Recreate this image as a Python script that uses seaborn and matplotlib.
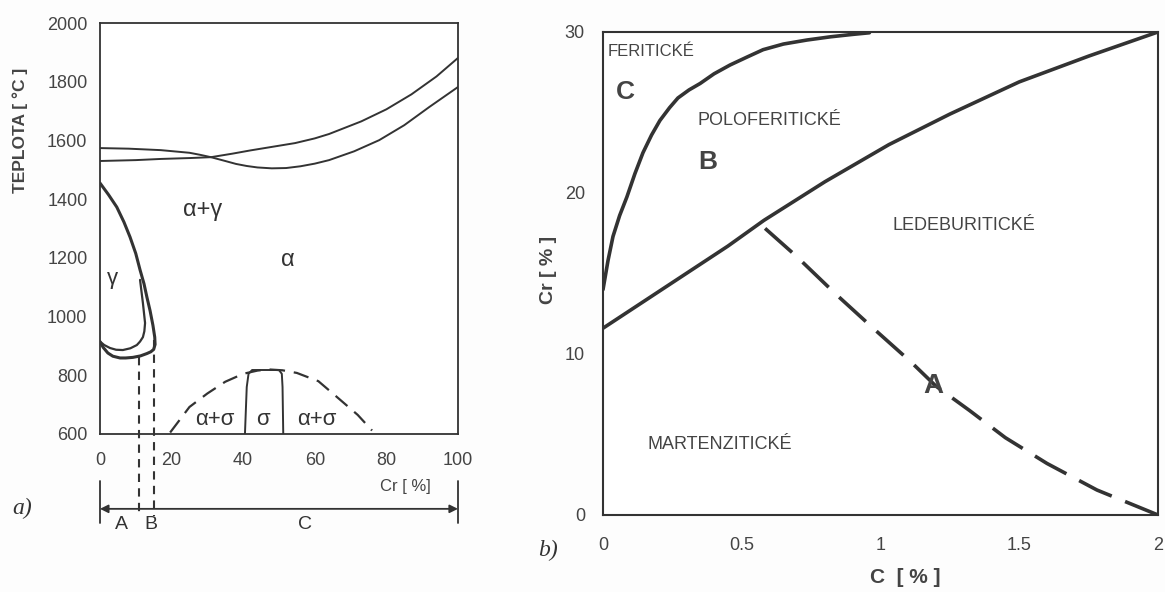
import numpy as np
import pandas as pd
import seaborn as sns
import matplotlib.pyplot as plt

sns.set_style("white")
plt.rcParams['font.family'] = ['Liberation Sans', 'DejaVu Sans']
ink = '#333333'
txt = '#444444'

# ---- a) Fe-Cr diagram (Cr %, temperature C) ----
liq_a_cr = [0, 8, 17, 25, 28, 31, 35, 38, 41, 44, 48, 52, 56, 60, 64, 71, 78, 85, 92, 96, 100]
liq_a_t = [1574, 1572, 1567, 1558, 1551, 1543, 1530, 1520, 1513, 1508, 1505, 1506, 1512, 1521,
           1533, 1563, 1601, 1652, 1714, 1748, 1782]
liq_b_cr = [0, 10, 17, 25, 31, 37, 42, 48, 54.5, 60, 64, 73, 80, 87, 94, 100]
liq_b_t = [1530, 1533, 1537, 1540, 1543, 1555, 1566, 1578, 1591, 1607, 1622, 1665, 1706, 1757,
           1818, 1881]

loop_out_cr = [0, 2.4, 4.7, 6.7, 8.4, 10, 11.2, 12.3, 13.1, 14.0, 14.8, 15.3, 15.4, 15.0, 14.2,
               13.1, 11.3, 9.2, 7.2, 5.6, 3.6, 2.2, 0.9, 0]
loop_out_t = [1455, 1415, 1373, 1322, 1271, 1215, 1159, 1112, 1067, 1020, 970, 930, 905, 888, 880,
              874, 866, 861, 859, 859, 865, 876, 895, 915]
loop_in_cr = [11.2, 12, 12.6, 12.4, 12, 11.2, 10.3, 8.5, 6.4, 4.5, 2.8, 1.2, 0]
loop_in_t = [1125, 1046, 978, 950, 930, 915, 903, 892, 886, 887, 893, 903, 915]

dome_cr = [19.6, 25, 30, 35, 40, 44, 47, 51, 55, 61, 66, 72, 76]
dome_t = [605, 692, 738, 778, 805, 816, 820, 817, 808, 780, 728, 665, 612]
sigma_cr = [40.5, 41, 41.5, 42.5, 50, 50.8, 51, 51.2]
sigma_t = [600, 760, 805, 818, 818, 805, 760, 600]

split_cr = [11, 15]
split_top_t = [862, 920]
bracket_t = 345

# ---- b) structure diagram (C %, Cr %) ----
fer_c = [0, 0.018, 0.036, 0.06, 0.086, 0.115, 0.144, 0.175, 0.205, 0.24, 0.27, 0.31, 0.35,
         0.40, 0.458, 0.52, 0.577, 0.65, 0.735, 0.82, 0.90, 0.96]
fer_cr = [14.0, 15.8, 17.3, 18.6, 19.75, 21.2, 22.5, 23.6, 24.5, 25.3, 25.9, 26.4, 26.8,
          27.4, 27.95, 28.45, 28.9, 29.25, 29.5, 29.7, 29.85, 29.95]
led_c = [0, 0.15, 0.3, 0.45, 0.58, 0.8, 1.03, 1.25, 1.5, 1.75, 2.0]
led_cr = [11.6, 13.3, 15.0, 16.7, 18.3, 20.7, 23.0, 24.9, 26.9, 28.5, 30.0]
mart_c = [0.584, 0.695, 0.84, 0.98, 1.11, 1.20, 1.32, 1.45, 1.60, 1.78, 2.0]
mart_cr = [17.8, 16.1, 13.7, 11.5, 9.5, 8.0, 6.5, 4.8, 3.2, 1.55, 0]

fig = plt.figure(figsize=(11.65, 5.92), dpi=100)
fig.patch.set_facecolor('#fdfdfd')
ax1 = fig.add_axes([0.0858, 0.2669, 0.3073, 0.6942])
ax2 = fig.add_axes([0.5176, 0.1301, 0.4764, 0.8159])

# ----- panel a -----
for xs, ys in [(liq_a_cr, liq_a_t), (liq_b_cr, liq_b_t)]:
    sns.lineplot(x=xs, y=ys, sort=False, estimator=None, color=ink, lw=1.4, ax=ax1)
sns.lineplot(x=loop_out_cr, y=loop_out_t, sort=False, estimator=None, color=ink, lw=2.2, ax=ax1)
sns.lineplot(x=loop_in_cr, y=loop_in_t, sort=False, estimator=None, color=ink, lw=1.6, ax=ax1)
sns.lineplot(x=dome_cr, y=dome_t, sort=False, estimator=None, color=ink, lw=1.6,
             dashes=(7, 4), ax=ax1)
sns.lineplot(x=sigma_cr, y=sigma_t, sort=False, estimator=None, color=ink, lw=1.4, ax=ax1)
for c, t in zip(split_cr, split_top_t):
    ax1.plot([c, c], [t, 320], color=ink, lw=1.5, dashes=(4, 3), clip_on=False)

ax1.set_xlim(0, 100)
ax1.set_ylim(600, 2000)
ax1.set_xticks(range(0, 101, 20))
ax1.set_yticks(range(600, 2001, 200))
ax1.tick_params(direction='in', length=4, color=ink, labelcolor=txt, labelsize=13)
ax1.tick_params(axis='x', pad=13)
ax1.tick_params(axis='y', pad=9)
for s in ax1.spines.values():
    s.set_color(ink)
    s.set_linewidth(1.3)
ax1.text(-0.223, 0.74, 'TEPLOTA [ °C ]', transform=ax1.transAxes, rotation=90,
         fontsize=12.5, fontweight='bold', color=txt, ha='center', va='center')

ax1.text(28.8, 1363, 'α+γ', fontsize=17, color=ink, ha='center', va='center')
ax1.text(52.5, 1193, 'α', fontsize=17, color=ink, ha='center', va='center')
ax1.text(3.6, 1130, 'γ', fontsize=16, color=ink, ha='center', va='center')
ax1.text(32.2, 648, 'α+σ', fontsize=16, color=ink, ha='center', va='center')
ax1.text(45.6, 648, 'σ', fontsize=16, color=ink, ha='center', va='center')
ax1.text(60.6, 648, 'α+σ', fontsize=16, color=ink, ha='center', va='center')

ax1.text(85.2, 420, 'Cr [ %]', fontsize=12, color=txt, ha='center', va='center', clip_on=False)
ax1.annotate('', xy=(0, bracket_t), xytext=(100, bracket_t), annotation_clip=False,
             arrowprops=dict(arrowstyle='<|-|>', color=ink, lw=1.3, shrinkA=0, shrinkB=0,
                             mutation_scale=12))
for c in [0, 100]:
    ax1.plot([c, c], [440, 297], color=ink, lw=1.3, clip_on=False)
ax1.text(6.1, 290, 'A', fontsize=14, color=ink, ha='center', va='center', clip_on=False)
ax1.text(14.2, 290, 'B', fontsize=14, color=ink, ha='center', va='center', clip_on=False)
ax1.text(57.3, 290, 'C', fontsize=14, color=ink, ha='center', va='center', clip_on=False)
fig.text(22 / 1165, 1 - 508 / 592, 'a)', fontsize=17, fontstyle='italic',
         family='Liberation Serif', color=ink, ha='center', va='center')

# ----- panel b -----
sns.lineplot(x=fer_c, y=fer_cr, sort=False, estimator=None, color=ink, lw=2.6, ax=ax2)
sns.lineplot(x=led_c, y=led_cr, sort=False, estimator=None, color=ink, lw=2.6, ax=ax2)
sns.lineplot(x=mart_c, y=mart_cr, sort=False, estimator=None, color=ink, lw=2.6,
             dashes=(10, 4), ax=ax2)

ax2.set_xlim(0, 2)
ax2.set_ylim(0, 30)
ax2.set_xticks([0, 0.5, 1, 1.5, 2])
ax2.set_xticklabels(['0', '0.5', '1', '1.5', '2'])
ax2.set_yticks([0, 10, 20, 30])
ax2.tick_params(direction='in', length=4, color=ink, labelcolor=txt, labelsize=13)
ax2.tick_params(axis='x', pad=16)
ax2.tick_params(axis='y', pad=13)
for s in ax2.spines.values():
    s.set_color(ink)
    s.set_linewidth(1.5)
ax2.text(0.544, -0.130, 'C  [ % ]', transform=ax2.transAxes, fontsize=15, fontweight='bold',
         color=txt, ha='center', va='center')
ax2.text(-0.099, 0.507, 'Cr [ % ]', transform=ax2.transAxes, rotation=90, fontsize=14,
         fontweight='bold', color=txt, ha='center', va='center')

ax2.text(0.018, 28.8, 'FERITICKÉ', fontsize=12, color=txt, ha='left', va='center')
ax2.text(0.079, 26.3, 'C', fontsize=19, fontweight='bold', color=txt, ha='center', va='center')
ax2.text(0.339, 24.5, 'POLOFERITICKÉ', fontsize=13, color=txt, ha='left', va='center')
ax2.text(0.378, 21.9, 'B', fontsize=19, fontweight='bold', color=txt, ha='center', va='center')
ax2.text(1.045, 18.0, 'LEDEBURITICKÉ', fontsize=13, color=txt, ha='left', va='center')
ax2.text(1.19, 8.0, 'A', fontsize=20, fontweight='bold', color=txt, ha='center', va='center')
ax2.text(0.42, 4.35, 'MARTENZITICKÉ', fontsize=13, color=txt, ha='center', va='center')
fig.text(548 / 1165, 1 - 550 / 592, 'b)', fontsize=17, fontstyle='italic',
         family='Liberation Serif', color=ink, ha='center', va='center')

fig.savefig('out.png', dpi=100, facecolor=fig.get_facecolor())
